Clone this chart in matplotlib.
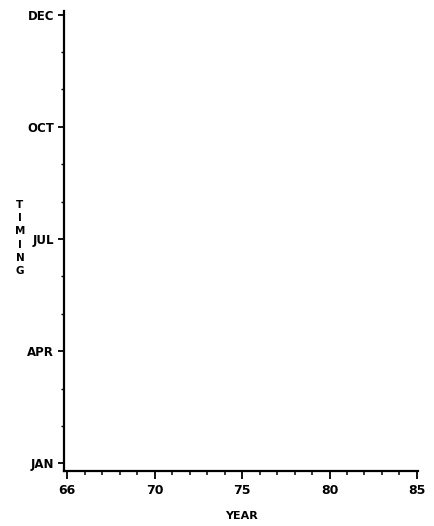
import matplotlib
matplotlib.use("Agg")
import matplotlib.pyplot as plt
from matplotlib import font_manager as fm

names = {f.name for f in fm.fontManager.ttflist}
fam = "Liberation Sans Narrow" if "Liberation Sans Narrow" in names else "DejaVu Sans"

# Data (axis definitions only; chart has no plotted series)
year_ticks = [65, 70, 75, 80, 85]
year_labels = ["66", "70", "75", "80", "85"]
month_ticks = [0, 1, 2, 3, 4]
month_labels = ["JAN", "APR", "JUL", "OCT", "DEC"]
x_label = "YEAR"
y_label = "TIMING"

fig = plt.figure(figsize=(4.34, 5.26), dpi=100)
ax = fig.add_axes([64/434, 55/526, (418-64)/434, (471.5-12)/526])
ax.set_xlim(64.82, 85.06)
ax.set_ylim(-0.067, 4.027)

for s in ["top", "right"]:
    ax.spines[s].set_visible(False)
for s in ["left", "bottom"]:
    ax.spines[s].set_linewidth(1.6)

ax.set_xticks(year_ticks)
ax.set_xticklabels(year_labels, fontfamily=fam, fontweight="bold", fontsize=9)
ax.set_xticks(list(range(66, 85)), minor=True)
ax.set_yticks(month_ticks)
ax.set_yticklabels(month_labels, fontfamily=fam, fontweight="bold", fontsize=8.5)
ax.set_yticks([m + k / 3 for m in month_ticks[:-1] for k in (1, 2)], minor=True)

ax.tick_params(axis="x", which="major", direction="out", length=6, width=1.3, pad=3)
ax.tick_params(axis="x", which="minor", direction="out", length=3, width=1.1)
ax.tick_params(axis="y", which="major", direction="out", length=4, width=1.3, pad=3)
ax.tick_params(axis="y", which="minor", direction="out", length=2, width=1.0)

ax.set_xlabel(x_label, fontfamily=fam, fontweight="bold", fontsize=8, labelpad=10.5)
fig.text(20/434, 1 - 238/526, "\n".join(y_label), ha="center", va="center",
         fontfamily=fam, fontweight="bold", fontsize=7.5, linespacing=1.4)

fig.savefig("out.png", dpi=100)
